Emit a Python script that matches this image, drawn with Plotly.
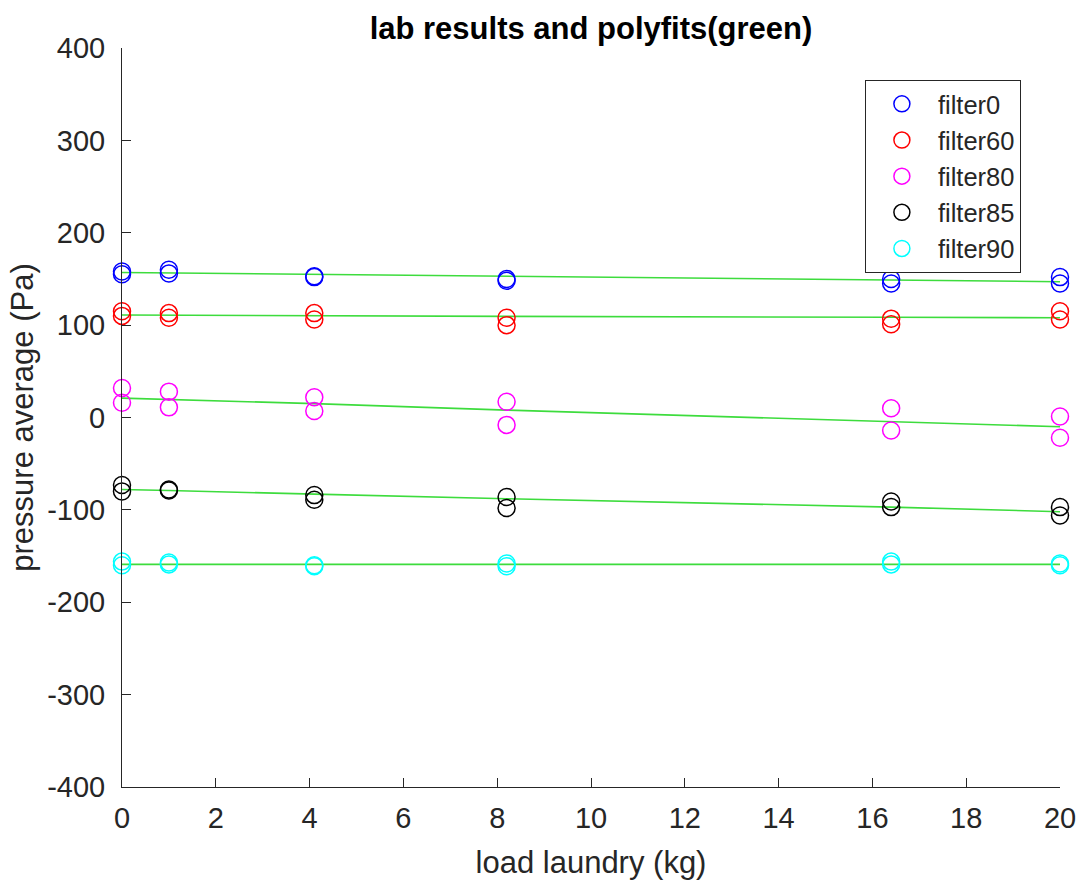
import plotly.graph_objects as go

# load laundry (kg) positions
x_load = [0, 1, 4.1, 8.2, 16.4, 20]

# two measurements per load for each filter (Pa)
filter0_a = [158, 160, 153, 150, 150, 152]
filter0_b = [155, 156, 152, 148, 145, 145]
filter60_a = [115, 113, 113, 108, 107, 115]
filter60_b = [110, 108, 106, 100, 101, 106]
filter80_a = [32, 28, 22, 17, 10, 1]
filter80_b = [16, 11, 7, -8, -14, -22]
filter85_a = [-73, -78, -84, -86, -91, -97]
filter85_b = [-80, -79, -89, -98, -97, -106]
filter90_a = [-156, -157, -160, -158, -156, -158]
filter90_b = [-160, -159, -161, -161, -159, -160]

# polyfit curves (green)
fit0 = [157, 156.5, 155, 153, 149, 147]
fit60 = [111, 110.8, 110, 109.5, 108.5, 108]
fit80 = [21, 19.5, 15, 8, -4, -10]
fit85 = [-78, -79, -83, -88, -97, -102]
fit90 = [-159, -159, -159, -159, -159, -159]

x_ticks = [0, 2, 4, 6, 8, 10, 12, 14, 16, 18, 20]
y_ticks = [-400, -300, -200, -100, 0, 100, 200, 300, 400]
y_ticktext = ["-400", "-300", "-200", "-100", "0", "100", "200", "300", "400"]

names = ["filter0", "filter60", "filter80", "filter85", "filter90"]
colors = ["#0000ff", "#ff0000", "#ff00ff", "#000000", "#00ffff"]
data_a = [filter0_a, filter60_a, filter80_a, filter85_a, filter90_a]
data_b = [filter0_b, filter60_b, filter80_b, filter85_b, filter90_b]
fits = [fit0, fit60, fit80, fit85, fit90]

fig = go.Figure()

for fit in fits:
    fig.add_trace(go.Scatter(
        x=x_load, y=fit, mode="lines",
        line=dict(color="#3ddc3d", width=1.6),
        showlegend=False, hoverinfo="skip", cliponaxis=False))

for name, col, ya, yb in zip(names, colors, data_a, data_b):
    fig.add_trace(go.Scatter(
        x=x_load + x_load, y=ya + yb, mode="markers", name=name,
        marker=dict(symbol="circle-open", size=17, color=col,
                    line=dict(width=1.5, color=col)),
        cliponaxis=False))

font_family = "Liberation Sans, Arial, sans-serif"
txt = "#262626"

fig.update_layout(
    width=1078, height=880,
    paper_bgcolor="white", plot_bgcolor="white",
    margin=dict(l=122, r=18, t=48, b=93),
    font=dict(family=font_family, size=29, color=txt),
    title=dict(text="<b>lab results and polyfits(green)</b>", x=0.5, xref="paper",
               xanchor="center", y=1 - 28 / 880, yref="container", yanchor="middle",
               font=dict(size=31, color="#000000")),
    showlegend=True,
    legend=dict(x=0.792, y=0.957, xanchor="left", yanchor="top",
                bgcolor="white", bordercolor=txt, borderwidth=1,
                font=dict(size=25.5, color=txt),
                itemwidth=62),
    xaxis=dict(range=[0, 20], tickmode="array", tickvals=x_ticks,
               ticks="inside", ticklen=9, tickcolor=txt,
               showline=True, linecolor=txt, linewidth=1,
               showgrid=False, zeroline=False, automargin=False,
               ticklabelstandoff=5, ticklabeloverflow="allow",
               title=dict(text="load laundry (kg)", standoff=18,
                          font=dict(size=31, color=txt)),
               tickfont=dict(size=29, color=txt)),
    yaxis=dict(range=[-400, 400], tickmode="array", tickvals=y_ticks,
               ticktext=y_ticktext,
               ticks="inside", ticklen=9, tickcolor=txt,
               showline=True, linecolor=txt, linewidth=1,
               showgrid=False, zeroline=False, automargin=False,
               ticklabelstandoff=10, ticklabeloverflow="allow",
               title=dict(text="pressure average (Pa)", standoff=4,
                          font=dict(size=31, color=txt)),
               tickfont=dict(size=29, color=txt)),
)

fig.write_html("out.html",
               config={"displayModeBar": False},
               post_script="document.body.style.margin='0';document.body.style.overflow='hidden';")
